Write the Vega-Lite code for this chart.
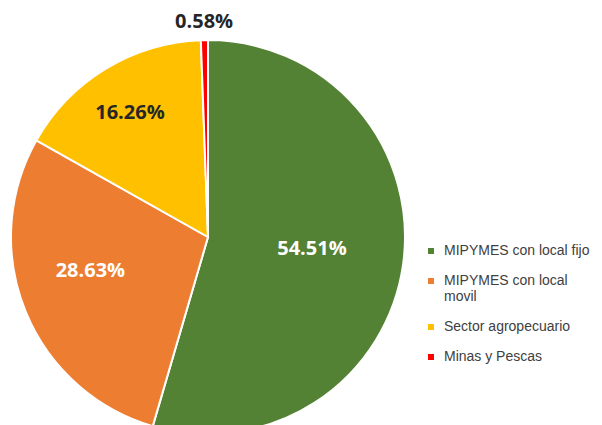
{
  "$schema": "https://vega.github.io/schema/vega-lite/v6.json",
  "width": 416,
  "height": 474,
  "padding": 0,
  "background": "white",
  "config": {"view": {"stroke": null}},
  "data": {"values": [
    {"categoria": "MIPYMES con local fijo", "orden": 1, "pct": 54.51, "label": "54.51%"},
    {"categoria": "MIPYMES con local movil", "orden": 2, "pct": 28.63, "label": "28.63%"},
    {"categoria": "Sector agropecuario", "orden": 3, "pct": 16.26, "label": "16.26%"},
    {"categoria": "Minas y Pescas", "orden": 4, "pct": 0.58, "label": "0.58%"}
  ]},
  "encoding": {
    "theta": {"field": "pct", "type": "quantitative", "stack": true},
    "order": {"field": "orden", "type": "quantitative"}
  },
  "layer": [
    {
      "mark": {"type": "arc", "outerRadius": 197, "stroke": "white", "strokeWidth": 2},
      "encoding": {
        "color": {
          "field": "categoria", "type": "nominal",
          "scale": {
            "domain": ["MIPYMES con local fijo", "MIPYMES con local movil", "Sector agropecuario", "Minas y Pescas"],
            "range": ["#548235", "#ED7D31", "#FFC000", "#FF0000"]
          },
          "legend": {
            "title": null,
            "orient": "none",
            "legendX": 424,
            "legendY": 244,
            "symbolType": "square",
            "symbolSize": 36,
            "symbolStrokeWidth": 0,
            "labelFont": "Liberation Sans",
            "labelFontSize": 14,
            "labelColor": "#404040",
            "labelLimit": 200,
            "rowPadding": 16,
            "labelOffset": 6,
            "labelExpr": "datum.label == 'MIPYMES con local movil' ? ['MIPYMES con local', 'movil'] : datum.label"
          }
        }
      }
    },
    {
      "mark": {"type": "text", "radius": 105, "dy": -3, "font": "Open Sans", "fontWeight": "bold", "fontSize": 20, "fill": "white"},
      "encoding": {"text": {"condition": {"test": "datum.orden == 1", "field": "label"}, "value": ""}}
    },
    {
      "mark": {"type": "text", "radius": 127, "dy": -14, "font": "Open Sans", "fontWeight": "bold", "fontSize": 20, "fill": "white"},
      "encoding": {"text": {"condition": {"test": "datum.orden == 2", "field": "label"}, "value": ""}}
    },
    {
      "mark": {"type": "text", "radius": 150, "dy": 4, "font": "Open Sans", "fontWeight": "bold", "fontSize": 20, "fill": "#262626"},
      "encoding": {"text": {"condition": {"test": "datum.orden == 3", "field": "label"}, "value": ""}}
    },
    {
      "mark": {"type": "text", "radius": 215, "font": "Open Sans", "fontWeight": "bold", "fontSize": 20, "fill": "#262626"},
      "encoding": {"text": {"condition": {"test": "datum.orden == 4", "field": "label"}, "value": ""}}
    }
  ]
}
